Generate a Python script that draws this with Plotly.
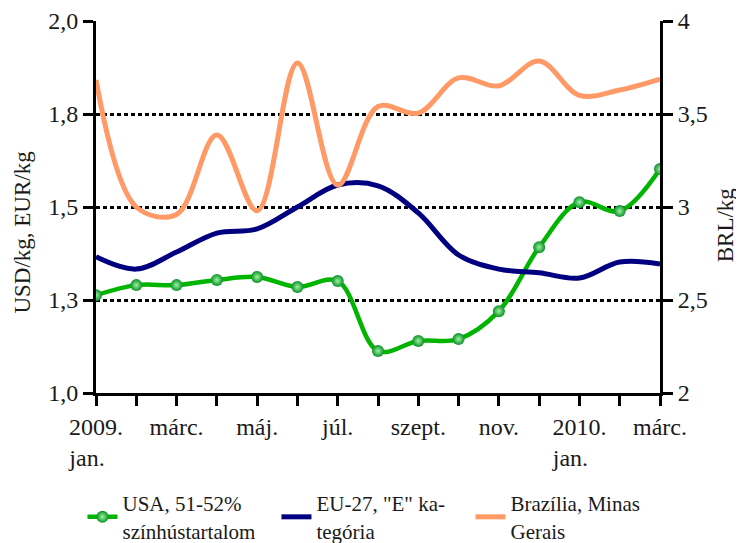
import plotly.graph_objects as go

# ---- data ----
months = ["2009. jan.", "febr.", "márc.", "ápr.", "máj.", "jún.", "júl.", "aug.",
          "szept.", "okt.", "nov.", "dec.", "2010. jan.", "febr.", "márc."]
tick_labels = ["2009.<br>jan.\u00a0\u00a0\u00a0", "", "márc.", "", "máj.", "", "júl.", "",
               "szept.", "", "nov.", "", "2010.<br>jan.\u00a0\u00a0\u00a0", "", "márc."]

usa = [1.263, 1.290, 1.290, 1.304, 1.312, 1.285, 1.301, 1.113,
       1.140, 1.145, 1.220, 1.392, 1.513, 1.489, 1.602]
eu27 = [1.366, 1.333, 1.379, 1.430, 1.441, 1.500, 1.559, 1.557,
        1.484, 1.371, 1.333, 1.323, 1.309, 1.352, 1.347]
brazil = [3.683, 3.000, 2.960, 3.387, 2.980, 3.774, 3.118, 3.540,
          3.505, 3.694, 3.651, 3.785, 3.600, 3.629, 3.688]

left_ticks = [1.0, 1.25, 1.5, 1.75, 2.0]
left_tick_text = ["1,0", "1,3", "1,5", "1,8", "2,0"]
right_ticks = [2, 2.5, 3, 3.5, 4]
right_tick_text = ["2", "2,5", "3", "3,5", "4"]

names = ["USA, 51-52%<br>színhústartalom", "EU-27, \"E\" ka-<br>tegória", "Brazília, Minas<br>Gerais"]

x = list(range(len(months)))
FONT = "Liberation Serif, DejaVu Serif, Times New Roman, serif"
TXT = "#1a1a1a"

fig = go.Figure()
fig.add_trace(go.Scatter(
    x=x, y=usa, name=names[0], mode="lines+markers",
    line=dict(color="#00b400", width=4.5, shape="spline", smoothing=1),
    marker=dict(size=12, color="#0a8f2a", gradient=dict(type="radial", color="#9af59a"),
                line=dict(width=0)),
    yaxis="y"))
fig.add_trace(go.Scatter(
    x=x, y=eu27, name=names[1], mode="lines",
    line=dict(color="#000080", width=5, shape="spline", smoothing=1),
    yaxis="y"))
fig.add_trace(go.Scatter(
    x=x, y=brazil, name=names[2], mode="lines",
    line=dict(color="#ff9966", width=5, shape="spline", smoothing=1),
    yaxis="y2"))

fig.update_layout(
    width=736, height=535,
    margin=dict(l=88, r=84, t=13, b=150, autoexpand=False),
    paper_bgcolor="white", plot_bgcolor="white",
    font=dict(family=FONT, size=24, color=TXT),
    showlegend=True,
    legend=dict(orientation="h", x=-0.024, xanchor="left", y=-0.242, yanchor="top",
                font=dict(family=FONT, size=21, color=TXT),
                entrywidth=149, entrywidthmode="pixels",
                itemwidth=30, tracegroupgap=0, traceorder="normal"),
    xaxis=dict(range=[0, 14], tickmode="array", tickvals=x, ticktext=tick_labels,
               showline=True, linecolor="black", linewidth=3,
               ticks="outside", ticklen=10, tickwidth=3, tickcolor="black",
               showgrid=False, zeroline=False, automargin=False,
               tickfont=dict(family=FONT, size=24, color=TXT)),
    yaxis=dict(range=[1.0, 2.0], tickmode="array", tickvals=left_ticks, ticktext=left_tick_text,
               showline=True, linecolor="black", linewidth=3,
               ticks="outside", ticklen=10, tickwidth=3, tickcolor="black",
               showgrid=True, gridcolor="black", gridwidth=3, griddash="4px,3px",
               zeroline=False, automargin=False, tickfont=dict(family=FONT, size=24, color=TXT)),
    yaxis2=dict(range=[2, 4], tickmode="array", tickvals=right_ticks, ticktext=right_tick_text,
                overlaying="y", side="right",
                showline=True, linecolor="black", linewidth=3,
                ticks="outside", ticklen=10, tickwidth=3, tickcolor="black",
                showgrid=False, zeroline=False, automargin=False,
                tickfont=dict(family=FONT, size=24, color=TXT)),
    annotations=[
        dict(text="USD/kg, EUR/kg", textangle=-90, xref="paper", yref="paper",
             x=-0.13, y=0.433, xanchor="center", yanchor="middle", showarrow=False,
             font=dict(family=FONT, size=23, color=TXT)),
        dict(text="BRL/kg", textangle=-90, xref="paper", yref="paper",
             x=1.116, y=0.452, xanchor="center", yanchor="middle", showarrow=False,
             font=dict(family=FONT, size=23, color=TXT)),
    ],
)

fig.write_html("out.html")
